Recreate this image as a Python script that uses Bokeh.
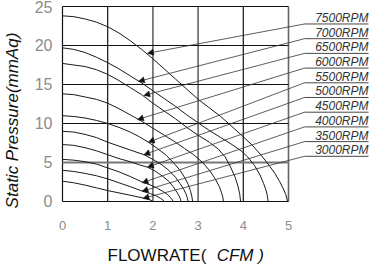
from math import pi
from bokeh.plotting import figure
from bokeh.models import FixedTicker, Label, Arrow, NormalHead, ColumnDataSource
from bokeh.embed import file_html
from bokeh.resources import INLINE
from bokeh.core.properties import value

# ---------------- data ----------------
x_ticks = [0, 1, 2, 3, 4, 5]
y_ticks = [0, 5, 10, 15, 20, 25]

rpm_labels = ["7500RPM", "7000RPM", "6500RPM", "6000RPM", "5500RPM",
              "5000RPM", "4500RPM", "4000RPM", "3500RPM", "3000RPM"]

c7500_x = [0, 0.25, 0.5, 0.75, 1.0, 1.25, 1.5, 1.75, 2.0, 2.25, 2.5, 2.75, 3.0, 3.25,
           3.5, 3.75, 4.0, 4.2, 4.4, 4.55, 4.7, 4.8, 4.88, 4.94, 4.98]
c7500_y = [23.8, 23.7, 23.4, 23.0, 22.4, 21.6, 20.6, 19.5, 18.3, 17.0, 15.7, 14.4, 13.1, 12.0,
           10.9, 9.6, 8.3, 7.2, 5.9, 4.8, 3.6, 2.6, 1.7, 0.9, 0]
c7000_x = [0, 0.25, 0.5, 0.75, 1.0, 1.25, 1.5, 1.75, 2.0, 2.25, 2.5, 2.75, 3.0, 3.25,
           3.5, 3.75, 3.95, 4.1, 4.25, 4.37, 4.45, 4.5, 4.53, 4.55]
c7000_y = [19.7, 19.5, 19.1, 18.5, 17.8, 17.0, 16.1, 15.2, 14.2, 13.2, 12.2, 11.1, 10.1, 9.1,
           8.2, 7.3, 6.5, 5.7, 4.6, 3.4, 2.3, 1.5, 0.8, 0]
c6500_x = [0, 0.25, 0.5, 0.75, 1.0, 1.25, 1.5, 1.75, 2.0, 2.25, 2.5, 2.75, 3.0, 3.25,
           3.45, 3.6, 3.72, 3.82, 3.88, 3.92, 3.94]
c6500_y = [17.7, 17.5, 17.3, 16.9, 16.3, 15.5, 14.6, 13.7, 12.6, 11.6, 10.6, 9.5, 8.5, 7.6,
           6.7, 5.7, 4.4, 3.1, 2.0, 1.0, 0]
c6000_x = [0, 0.25, 0.5, 0.75, 1.0, 1.25, 1.5, 1.75, 2.0, 2.25, 2.5, 2.7, 2.9, 3.1,
           3.25, 3.38, 3.47, 3.52, 3.55, 3.56]
c6000_y = [13.8, 13.7, 13.4, 13.1, 12.6, 11.9, 11.1, 10.3, 9.4, 8.5, 7.6, 6.8, 6.0, 5.0,
           4.0, 2.9, 1.9, 1.1, 0.5, 0]
c5500_x = [0, 0.25, 0.5, 0.75, 1.0, 1.25, 1.5, 1.7, 1.9, 2.1, 2.3, 2.45, 2.6, 2.7,
           2.78, 2.83, 2.86, 2.88]
c5500_y = [11.0, 10.9, 10.7, 10.4, 10.0, 9.5, 8.9, 8.3, 7.6, 6.8, 5.9, 5.0, 4.0, 3.1,
           2.2, 1.4, 0.7, 0]
c5000_x = [0, 0.25, 0.5, 0.75, 1.0, 1.25, 1.5, 1.8, 2.0, 2.2, 2.35, 2.5, 2.6, 2.68,
           2.73, 2.76, 2.78]
c5000_y = [9.0, 8.9, 8.6, 8.2, 7.6, 7.1, 6.6, 6.0, 5.4, 4.7, 4.0, 3.1, 2.3, 1.6,
           1.0, 0.5, 0]
c4500_x = [0, 0.25, 0.5, 0.75, 1.0, 1.25, 1.5, 1.7, 1.88, 2.05, 2.2, 2.35, 2.45, 2.53,
           2.58, 2.61, 2.62]
c4500_y = [7.3, 7.2, 6.9, 6.5, 6.0, 5.5, 5.1, 4.7, 4.4, 3.9, 3.3, 2.6, 1.9, 1.2,
           0.7, 0.3, 0]
c4000_x = [0, 0.25, 0.5, 0.75, 1.0, 1.25, 1.5, 1.76, 1.95, 2.1, 2.22, 2.32, 2.39, 2.43, 2.45]
c4000_y = [5.4, 5.3, 5.1, 4.8, 4.3, 3.8, 3.2, 2.5, 2.1, 1.7, 1.3, 0.9, 0.5, 0.2, 0]
c3500_x = [0, 0.25, 0.5, 0.75, 1.0, 1.25, 1.5, 1.76, 1.95, 2.08, 2.17, 2.22, 2.25]
c3500_y = [4.0, 3.85, 3.6, 3.3, 2.9, 2.4, 1.9, 1.35, 1.0, 0.7, 0.4, 0.2, 0]
c3000_x = [0, 0.25, 0.5, 0.75, 1.0, 1.25, 1.5, 1.78, 1.88, 1.95, 1.99, 2.0]
c3000_y = [2.6, 2.4, 2.1, 1.75, 1.4, 1.1, 0.8, 0.45, 0.32, 0.18, 0.07, 0]

# points on each curve where the label's leader arrow lands
arrow_x = [1.88, 1.68, 1.80, 1.66, 1.90, 1.80, 1.88, 1.76, 1.76, 1.78]
arrow_y = [19.0, 15.4, 13.6, 10.5, 7.6, 6.0, 4.4, 2.4, 1.3, 0.4]

curves_x = [c7500_x, c7000_x, c6500_x, c6000_x, c5500_x,
            c5000_x, c4500_x, c4000_x, c3500_x, c3000_x]
curves_y = [c7500_y, c7000_y, c6500_y, c6000_y, c5500_y,
            c5000_y, c4500_y, c4000_y, c3500_y, c3000_y]

# ---------------- layout ----------------
LBL_X0 = 5.354
LBL_X1 = 6.77
LBL_TOP = 22.76
LBL_STEP = 1.885
label_y = [LBL_TOP - i * LBL_STEP for i in range(len(rpm_labels))]

# the frame covers the whole canvas; axes are pinned at x=0 / y=0
p = figure(width=372, height=264,
           x_range=(-1.3717, 6.8584), y_range=(-8.077, 25.769),
           output_backend="svg", toolbar_location=None,
           min_border_left=0, min_border_right=0,
           min_border_top=0, min_border_bottom=0)
p.outline_line_color = None
p.grid.visible = False
p.background_fill_color = "white"
p.border_fill_color = "white"

for ax, ticks in ((p.xaxis, x_ticks), (p.yaxis, y_ticks)):
    ax.ticker = FixedTicker(ticks=ticks)
    ax.fixed_location = 0
    ax.axis_line_color = None
    ax.major_tick_line_color = None
    ax.minor_tick_line_color = None
    ax.major_tick_in = 0
    ax.major_tick_out = 0
    ax.minor_tick_in = 0
    ax.minor_tick_out = 0
    ax.major_label_text_font = "Liberation Sans"
    ax.major_label_text_color = "#8c8c8c"
p.xaxis.major_label_text_font_size = "13px"
p.xaxis.major_label_standoff = 20
p.yaxis.major_label_text_font_size = "16px"
p.yaxis.major_label_standoff = 10

# grid and frame
xmin, xmax = x_ticks[0], x_ticks[-1]
ymin, ymax = y_ticks[0], y_ticks[-1]
black_v = [0, 1, 4]
gray_v = [2, 3, 5]
black_h = [0, 10, 15, 20, 25]
gray_h = [5]
p.segment(x0=black_v, y0=[ymin] * len(black_v), x1=black_v, y1=[ymax] * len(black_v),
          line_color="#111111", line_width=1.2)
p.segment(x0=gray_v, y0=[ymin] * len(gray_v), x1=gray_v, y1=[ymax] * len(gray_v),
          line_color="#666666", line_width=1.6)
p.segment(x0=[xmin] * len(black_h), y0=black_h, x1=[xmax] * len(black_h), y1=black_h,
          line_color="#111111", line_width=1.2)
p.segment(x0=[xmin] * len(gray_h), y0=gray_h, x1=[xmax] * len(gray_h), y1=gray_h,
          line_color="#777777", line_width=2.2)

# fan curves
p.multi_line(xs=curves_x, ys=curves_y, line_color="#1a1a1a", line_width=1)

# callouts: underline + leader with arrowhead + text
n = len(rpm_labels)
p.segment(x0=[LBL_X0] * n, y0=label_y, x1=[LBL_X1] * n, y1=label_y,
          line_color="#333333", line_width=0.9)
src = ColumnDataSource(dict(xs=[LBL_X0] * n, ys=label_y, xe=arrow_x, ye=arrow_y))
p.add_layout(Arrow(end=NormalHead(size=6, fill_color="#111111", line_color="#111111", line_width=0.5),
                   x_start="xs", y_start="ys", x_end="xe", y_end="ye", source=src,
                   line_color="#333333", line_width=0.8))
p.text(x=[LBL_X1] * n, y=[v - 0.12 for v in label_y], text=rpm_labels,
       text_font=value("Liberation Sans"), text_font_style="italic",
       text_font_size="12px", text_color="#333333",
       text_align="right", text_baseline="bottom")

# axis titles
p.add_layout(Label(x=-1.106, y=10.38, text="Static Pressure(mmAq)", angle=pi / 2,
                   text_align="center", text_baseline="middle",
                   text_font="Liberation Sans", text_font_style="italic",
                   text_font_size="17px", text_color="#111111"))
p.add_layout(Label(x=0.996, y=-6.92, text="FLOWRATE(",
                   text_align="left", text_baseline="middle",
                   text_font="Liberation Sans", text_font_size="17px", text_color="#111111"))
p.add_layout(Label(x=3.41, y=-6.92, text="CFM )",
                   text_align="left", text_baseline="middle",
                   text_font="Liberation Sans", text_font_style="italic",
                   text_font_size="17px", text_color="#111111"))

open("out.html", "w").write(file_html(p, INLINE))
